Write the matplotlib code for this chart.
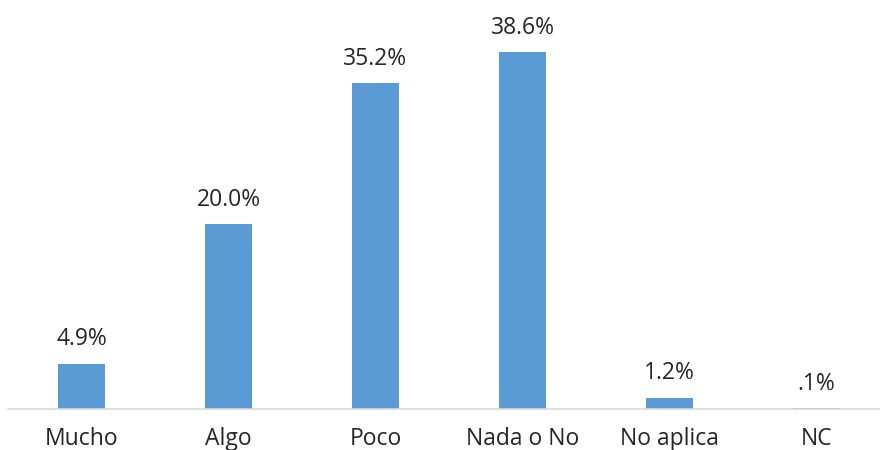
import matplotlib
matplotlib.use("Agg")
import matplotlib.pyplot as plt

categories = ["Mucho", "Algo", "Poco", "Nada o No", "No aplica", "NC"]
values = [4.9, 20.0, 35.2, 38.6, 1.2, 0.1]
value_labels = ["4.9%", "20.0%", "35.2%", "38.6%", "1.2%", ".1%"]

plt.rcParams['font.family'] = ['Open Sans', 'DejaVu Sans']

W, H = 880, 450
fig = plt.figure(figsize=(W/100, H/100), dpi=100)
ymax = 42
px_per_unit = 357 / 38.6
ax_h = ymax * px_per_unit
ax = fig.add_axes([8/W, (H-409)/H, 882/W, ax_h/H])

x = list(range(len(categories)))
bars = ax.bar(x, values, width=0.315, color="#5b9bd5")
ax.set_xlim(-0.5, len(categories)-0.5)
ax.set_ylim(0, ymax)

for xi, v, lab in zip(x, values, value_labels):
    ax.annotate(lab, (xi, v), xytext=(0, 9), textcoords="offset points",
                ha="center", va="bottom", fontsize=16.5, color="#262626")

ax.set_xticks(x)
ax.set_xticklabels(categories, fontsize=16.5, color="#262626")
ax.tick_params(axis="x", length=0, pad=13)
ax.set_yticks([])
for s in ["top", "right", "left"]:
    ax.spines[s].set_visible(False)
ax.spines["bottom"].set_color("#d9d9d9")
ax.spines["bottom"].set_linewidth(1.2)

fig.savefig("out.png", dpi=100)
